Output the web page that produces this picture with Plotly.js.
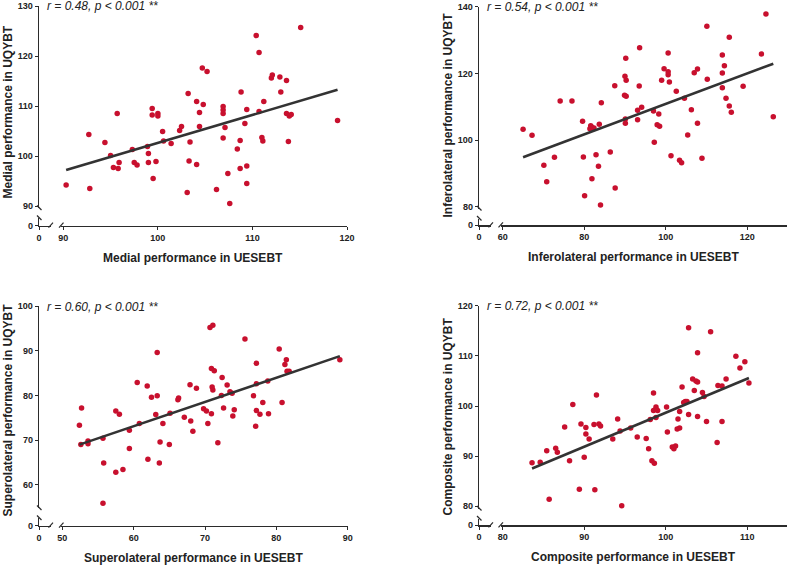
<!DOCTYPE html>
<html>
<head>
<meta charset="utf-8">
<script src="https://cdn.plot.ly/plotly-3.0.1.min.js"></script>
<style>
  html, body { margin: 0; padding: 0; background: #fff; }
  #chart { width: 790px; height: 565px; }
</style>
</head>
<body>
<div id="chart"></div>
<script>
// data (UESEBT on x, UQYBT on y)
const medialX = [90.3, 92.7, 92.8, 94.4, 95.0, 95.3, 95.7, 95.8, 95.9, 97.3, 97.5, 97.8, 98.9, 99.0, 99.0,
  99.4, 99.4, 99.5, 99.8, 100.0, 100.0, 100.5, 100.6, 101.4, 102.3, 102.5, 103.1, 103.2, 103.3, 103.4,
  104.1, 104.1, 104.4, 104.4, 104.7, 104.8, 105.2, 106.2, 106.9, 106.9, 106.9, 106.9, 107.1, 107.4, 107.6,
  108.4, 108.8, 108.7, 108.7, 109.2, 109.4, 109.4, 109.4, 110.4, 110.7, 110.7, 111.0, 111.1, 111.2, 112.0,
  112.1, 112.9, 113.0, 113.6, 113.6, 113.8, 113.9, 114.1, 115.1, 119.0];
const medialY = [94.2, 104.3, 93.5, 102.7, 100.1, 97.7, 108.5, 97.5, 98.7, 101.3, 98.7, 98.2, 101.9, 100.5, 98.7,
  109.5, 108.2, 95.5, 98.9, 108.5, 108.0, 104.9, 103.0, 102.5, 105.1, 105.9, 92.7, 112.5, 99.0, 102.8,
  110.9, 98.3, 108.7, 105.9, 117.6, 110.3, 116.9, 93.3, 109.9, 109.2, 108.5, 103.6, 105.7, 96.5, 90.5,
  101.4, 112.8, 103.1, 97.5, 106.5, 94.5, 109.3, 98.0, 124.1, 120.7, 108.9, 103.7, 103.0, 110.9, 115.6,
  116.2, 115.8, 112.8, 115.1, 108.5, 102.9, 108.0, 108.3, 125.7, 107.1];

const inferoX = [65.0, 67.2, 70.1, 70.8, 72.7, 74.1, 77.0, 79.6, 79.8, 80.1, 81.6, 81.4, 81.8, 82.4, 81.9,
  82.9, 83.5, 83.7, 84.2, 84.0, 86.4, 87.5, 87.6, 90.0, 89.9, 90.2, 90.3, 90.3, 90.1, 90.1,
  93.1, 93.1, 93.5, 93.6, 94.1, 97.0, 97.2, 97.9, 98.3, 98.5, 99.0, 99.6, 100.6, 100.6, 100.6,
  100.9, 101.3, 102.6, 103.4, 103.9, 104.6, 105.4, 106.3, 107.0, 107.8, 107.8, 108.9, 110.1, 110.2, 113.9,
  113.9, 113.9, 114.4, 114.8, 115.6, 115.6, 116.1, 119.0, 123.5, 124.6, 126.4];
const inferoY = [103.2, 101.4, 92.4, 87.5, 94.8, 111.7, 111.7, 105.6, 94.9, 83.3, 104.3, 103.4, 103.9, 103.6, 88.4,
  95.6, 92.1, 104.7, 111.2, 80.5, 96.4, 116.3, 85.6, 119.1, 113.4, 124.5, 117.9, 113.1, 106.3, 105.0,
  108.9, 106.1, 116.2, 127.7, 109.8, 108.7, 99.3, 104.6, 107.8, 104.1, 117.9, 121.4, 126.1, 120.5, 119.6,
  117.4, 95.3, 114.6, 93.9, 93.2, 112.5, 101.5, 109.1, 120.2, 121.3, 105.0, 94.5, 134.1, 118.2, 125.5,
  120.1, 115.7, 122.3, 112.5, 130.8, 110.2, 108.3, 116.1, 125.8, 137.8, 107.0];

const superoX = [52.4, 52.7, 52.6, 53.6, 53.6, 55.7, 55.8, 55.7, 57.5, 57.5, 58.0, 58.5, 59.4, 59.4, 60.5,
  60.8, 61.9, 62.0, 62.5, 63.1, 63.3, 63.3, 63.6, 63.7, 64.1, 65.0, 65.1, 66.2, 66.3, 67.1,
  67.9, 68.0, 68.3, 68.8, 69.8, 70.2, 70.4, 70.7, 71.1, 70.9, 71.0, 71.1, 70.9, 71.3, 71.8,
  72.4, 72.3, 72.6, 73.1, 73.5, 73.8, 73.9, 74.1, 75.6, 76.8, 77.1, 77.2, 77.2, 77.2, 77.7,
  78.1, 78.8, 78.9, 80.4, 80.8, 81.2, 81.4, 81.5, 81.8, 88.9];
const superoY = [73.3, 77.2, 69.0, 69.8, 69.2, 70.4, 64.9, 55.9, 76.5, 62.8, 75.8, 63.4, 72.2, 68.1, 82.9,
  73.7, 82.1, 65.7, 79.6, 75.7, 79.9, 89.6, 64.9, 69.6, 73.7, 69.0, 76.0, 79.0, 79.4, 75.1,
  82.4, 74.3, 72.0, 81.6, 77.0, 76.5, 73.7, 95.2, 95.7, 86.0, 81.9, 81.2, 75.9, 85.5, 69.4,
  84.0, 80.0, 77.2, 82.3, 80.8, 80.5, 75.4, 76.8, 92.6, 79.9, 73.1, 87.2, 82.6, 76.6, 75.8,
  78.4, 83.2, 75.9, 90.4, 78.4, 86.9, 88.0, 85.4, 85.4, 88.0];

const compX = [83.6, 84.6, 85.4, 85.7, 86.5, 86.7, 87.6, 88.2, 88.6, 89.4, 89.6, 90.0, 90.2, 90.2, 90.6,
  91.2, 91.3, 91.5, 91.8, 92.0, 93.5, 94.1, 94.4, 94.6, 95.7, 96.5, 97.6, 97.9, 98.1, 98.3,
  98.5, 98.5, 98.6, 98.8, 98.8, 98.8, 99.0, 100.1, 100.2, 100.8, 101.0, 101.2, 101.4, 101.5, 101.7,
  101.7, 102.0, 102.2, 102.4, 102.6, 102.8, 102.8, 103.3, 103.5, 103.7, 103.9, 103.9, 103.9, 104.5, 104.7,
  105.0, 105.5, 106.3, 106.4, 106.9, 106.9, 107.4, 108.6, 109.1, 109.7, 110.2];
const compY = [88.7, 88.8, 91.1, 81.4, 91.6, 90.8, 95.8, 89.1, 100.3, 83.4, 96.4, 89.8, 94.4, 95.7, 93.4,
  96.3, 83.3, 102.2, 96.4, 96.0, 93.4, 97.4, 95.0, 80.1, 95.6, 93.8, 93.5, 91.5, 97.3, 89.1,
  102.6, 99.1, 88.6, 97.7, 99.4, 99.8, 99.1, 99.8, 94.8, 91.8, 91.5, 92.0, 95.4, 97.4, 95.6,
  98.9, 103.8, 100.7, 100.9, 100.9, 98.3, 115.6, 105.4, 103.1, 105.0, 104.8, 97.9, 110.6, 102.7, 101.9,
  96.9, 114.8, 92.7, 104.1, 104.0, 96.9, 105.4, 109.9, 107.6, 108.8, 104.6];

const statLabels = ["r = 0.48, p < 0.001 **", "r = 0.54, p < 0.001 **", "r = 0.60, p < 0.001 **", "r = 0.72, p < 0.001 **"];
const xTitles = ["Medial performance in UESEBT", "Inferolateral performance in UESEBT",
  "Superolateral performance in UESEBT", "Composite performance in UESEBT"];
const yTitles = ["Medial performance in UQYBT", "Inferolateral performance in UQYBT",
  "Superolateral performance in UQYBT", "Composite performance in UQYBT"];

// panel geometry in pixels: axis corner, main segment extents, and one reference tick + px per unit
const W = 790, H = 565;
const panels = [
  { xs: medialX, ys: medialY, ax: 39, ay: 225.7, yTop: 6, yBot: 208, yRef: 130, yRefPx: 6, yScale: 5,
    xLeft: 61, xRight: 347, xRef: 90, xRefPx: 63.3, xScale: 9.457, dx: 10, dy: 10, titleY: 112 },
  { xs: inferoX, ys: inferoY, ax: 479, ay: 225.3, yTop: 6.7, yBot: 208.5, yRef: 140, yRefPx: 6.7, yScale: 3.333,
    xLeft: 500.5, xRight: 787, xRef: 60, xRefPx: 502.7, xScale: 4.075, dx: 20, dy: 20, titleY: 115 },
  { xs: superoX, ys: superoY, ax: 39, ay: 525.7, yTop: 306, yBot: 508, yRef: 100, yRefPx: 306, yScale: 4.47,
    xLeft: 61, xRight: 347.7, xRef: 50, xRefPx: 62.3, xScale: 7.135, dx: 10, dy: 10, titleY: 410 },
  { xs: compX, ys: compY, ax: 479, ay: 525.3, yTop: 305.7, yBot: 508.5, yRef: 120, yRefPx: 305.7, yScale: 5.015,
    xLeft: 500.5, xRight: 787, xRef: 80, xRefPx: 502.7, xScale: 8.153, dx: 10, dy: 10, titleY: 417 }
];

const px = (v) => v / W;
const py = (v) => 1 - v / H;

function linFit(xs, ys) {
  const n = xs.length;
  const mx = xs.reduce((a, b) => a + b, 0) / n;
  const my = ys.reduce((a, b) => a + b, 0) / n;
  let sxy = 0, sxx = 0;
  for (let i = 0; i < n; i++) {
    sxy += (xs[i] - mx) * (ys[i] - my);
    sxx += (xs[i] - mx) * (xs[i] - mx);
  }
  const b = sxy / sxx;
  return { a: my - b * mx, b: b };
}

const axisColor = "#2b2b2b";
const fontFam = "Arial, 'Liberation Sans', sans-serif";
const tickFont = { family: fontFam, size: 9, color: "#222", weight: "bold" };

const traces = [];
const layout = {
  width: W, height: H,
  margin: { l: 0, r: 0, t: 0, b: 0 },
  paper_bgcolor: "#fff", plot_bgcolor: "rgba(0,0,0,0)",
  showlegend: false,
  shapes: [], annotations: []
};

function baseAxis() {
  return {
    showgrid: false, zeroline: false, showline: true,
    linecolor: axisColor, linewidth: 1.3,
    ticks: "outside", ticklen: 3, tickwidth: 1, tickcolor: axisColor,
    tickfont: tickFont, fixedrange: true
  };
}

panels.forEach((p, k) => {
  const mainId = 2 * k + 1, zeroId = 2 * k + 2;
  const xm = "x" + mainId, ym = "y" + mainId, xz = "x" + zeroId, yz = "y" + zeroId;
  const key = (id, ax) => ax + "axis" + (id === 1 ? "" : id);

  // main segments
  layout[key(mainId, "x")] = Object.assign(baseAxis(), {
    domain: [px(p.xLeft), px(p.xRight)],
    range: [p.xRef + (p.xLeft - p.xRefPx) / p.xScale, p.xRef + (p.xRight - p.xRefPx) / p.xScale],
    dtick: p.dx, tick0: 0, anchor: yz
  });
  layout[key(mainId, "y")] = Object.assign(baseAxis(), {
    domain: [py(p.yBot), py(p.yTop)],
    range: [p.yRef - (p.yBot - p.yRefPx) / p.yScale, p.yRef],
    dtick: p.dy, tick0: 0, anchor: xz
  });
  // short zero segments before the breaks
  layout[key(zeroId, "x")] = Object.assign(baseAxis(), {
    domain: [px(p.ax), px(p.ax + 11.5)],
    range: [0, 11.5 / p.xScale], tickvals: [0], ticktext: ["0"], anchor: yz
  });
  layout[key(zeroId, "y")] = Object.assign(baseAxis(), {
    domain: [py(p.ay), py(p.yBot + 10)],
    range: [0, (p.ay - p.yBot - 10) / p.yScale], tickvals: [0], ticktext: ["0"], anchor: xz
  });

  traces.push({ x: [], y: [], xaxis: xz, yaxis: yz, type: "scatter", mode: "markers", hoverinfo: "skip" });

  traces.push({
    x: p.xs, y: p.ys, xaxis: xm, yaxis: ym,
    type: "scatter", mode: "markers", cliponaxis: false,
    marker: { size: 5.5, color: "#c8102e", line: { width: 0 } }
  });

  const f = linFit(p.xs, p.ys);
  const x0 = Math.min(...p.xs), x1 = Math.max(...p.xs);
  traces.push({
    x: [x0, x1], y: [f.a + f.b * x0, f.a + f.b * x1], xaxis: xm, yaxis: ym,
    type: "scatter", mode: "lines", line: { color: "#333", width: 2.6 }, cliponaxis: false
  });

  // break marks
  const brk = { type: "line", xref: "paper", yref: "paper", line: { color: axisColor, width: 1.2 } };
  [p.yBot, p.yBot + 10].forEach((yb) => {
    layout.shapes.push(Object.assign({}, brk, { x0: px(p.ax - 2), y0: py(yb - 2.5), x1: px(p.ax + 2.5), y1: py(yb + 2) }));
  });
  [p.ax + 11.5, p.xLeft].forEach((xb) => {
    layout.shapes.push(Object.assign({}, brk, { x0: px(xb - 2), y0: py(p.ay + 2), x1: px(xb + 2.5), y1: py(p.ay - 3) }));
  });

  // stats label, axis titles
  layout.annotations.push({
    xref: "paper", yref: "paper", x: px(p.ax + 6), y: py(p.yTop + 0.5), xanchor: "left", yanchor: "middle",
    text: statLabels[k], showarrow: false,
    font: { family: fontFam, size: 12, color: "#222", style: "italic" }
  });
  layout.annotations.push({
    xref: "paper", yref: "paper", x: px((p.ax + p.xRight) / 2), y: py(p.ay + 32), xanchor: "center", yanchor: "middle",
    text: xTitles[k], showarrow: false,
    font: { family: fontFam, size: 12, color: "#222", weight: "bold" }
  });
  layout.annotations.push({
    xref: "paper", yref: "paper", x: px(p.ax - 31.5), y: py(p.titleY), xanchor: "center", yanchor: "middle",
    text: yTitles[k], showarrow: false, textangle: -90,
    font: { family: fontFam, size: 12, color: "#222", weight: "bold" }
  });
});

Plotly.newPlot("chart", traces, layout, { displayModeBar: false, staticPlot: true });
</script>
</body>
</html>
